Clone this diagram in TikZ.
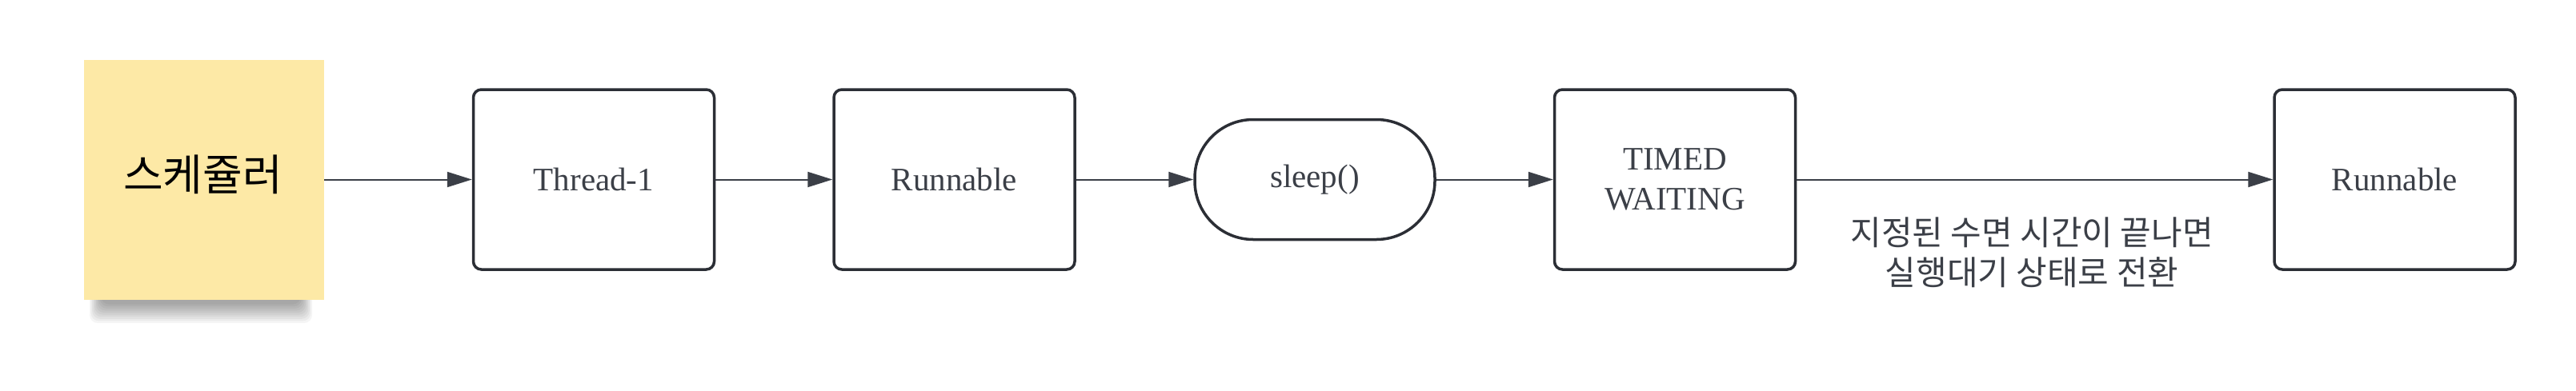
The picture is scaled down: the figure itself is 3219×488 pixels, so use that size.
\documentclass[tikz,border=0pt]{standalone}
\usepackage{fontspec}
\setmainfont{Liberation Serif}
\newfontfamily\krfont{Noto Sans CJK KR}
\usetikzlibrary{arrows.meta}
\definecolor{stickyfill}{HTML}{FDE9A6}
\definecolor{boxline}{HTML}{2B2E35}
\definecolor{txtgrey}{HTML}{3B3F47}
\definecolor{connline}{HTML}{3B3F47}
\tikzset{
  statebox/.style={draw=boxline, line width=1.75pt, rounded corners=5pt, fill=white,
    minimum width=150.5pt, minimum height=112.5pt, inner sep=0pt, align=center,
    text=txtgrey, font=\fontsize{20.5}{25}\selectfont},
  stadium/.style={draw=boxline, line width=1.75pt, rounded corners=36.5pt, fill=white,
    minimum width=150pt, minimum height=75pt, inner sep=0pt,
    text=txtgrey, font=\fontsize{20.5}{25}\selectfont},
  sticky/.style={fill=stickyfill, minimum width=150pt, minimum height=150pt, inner sep=0pt},
  conn/.style={draw=connline, line width=1pt, -{Triangle[length=15.5pt, width=9.5pt]}},
  krlabel/.style={text=txtgrey, align=center, inner sep=0pt,
    font=\krfont\fontsize{21}{25}\selectfont}
}
\begin{document}
\begin{tikzpicture}[x=0.5pt, y=-0.5pt]
  \fill[white] (0,0) rectangle (3219,488);
  \useasboundingbox (0,0) rectangle (3219,488);
  % shadow of the sticky note
  \foreach \i in {0,...,9} {
    \fill[black, opacity=0.04, rounded corners=5pt]
      (112+\i*1.6, 355) rectangle (390-\i*1.6, 404-\i*2.6);
  }
  \node[sticky] (sched) at (255,225) {};
  \node[inner sep=0pt, font=\krfont\fontsize{27}{32}\selectfont, text=black] (schedtxt) at (253.5,218) {스케쥴러};
  \node[statebox] (t1) at (742,224.5) {Thread-1};
  \node[statebox] (r1) at (1192.5,224.5) {Runnable};
  \node[stadium] (sl) at (1643,224.5) {sleep()};
  \node[statebox] (tw) at (2093,224.5) {TIMED\\WAITING};
  \node[statebox] (r2) at (2992.5,224.5) {Runnable};
  \node[krlabel] (lbl) at (2539,316) {지정된 수면 시간이 끝나면\\실행대기 상태로 전환};
  \draw[conn] (sched.east |- t1.west) -- (t1.west);
  \draw[conn] (t1.east) -- (r1.west);
  \draw[conn] (r1.east) -- (sl.west);
  \draw[conn] (sl.east) -- (tw.west);
  \draw[conn] (tw.east) -- (r2.west);
\end{tikzpicture}
\end{document}
